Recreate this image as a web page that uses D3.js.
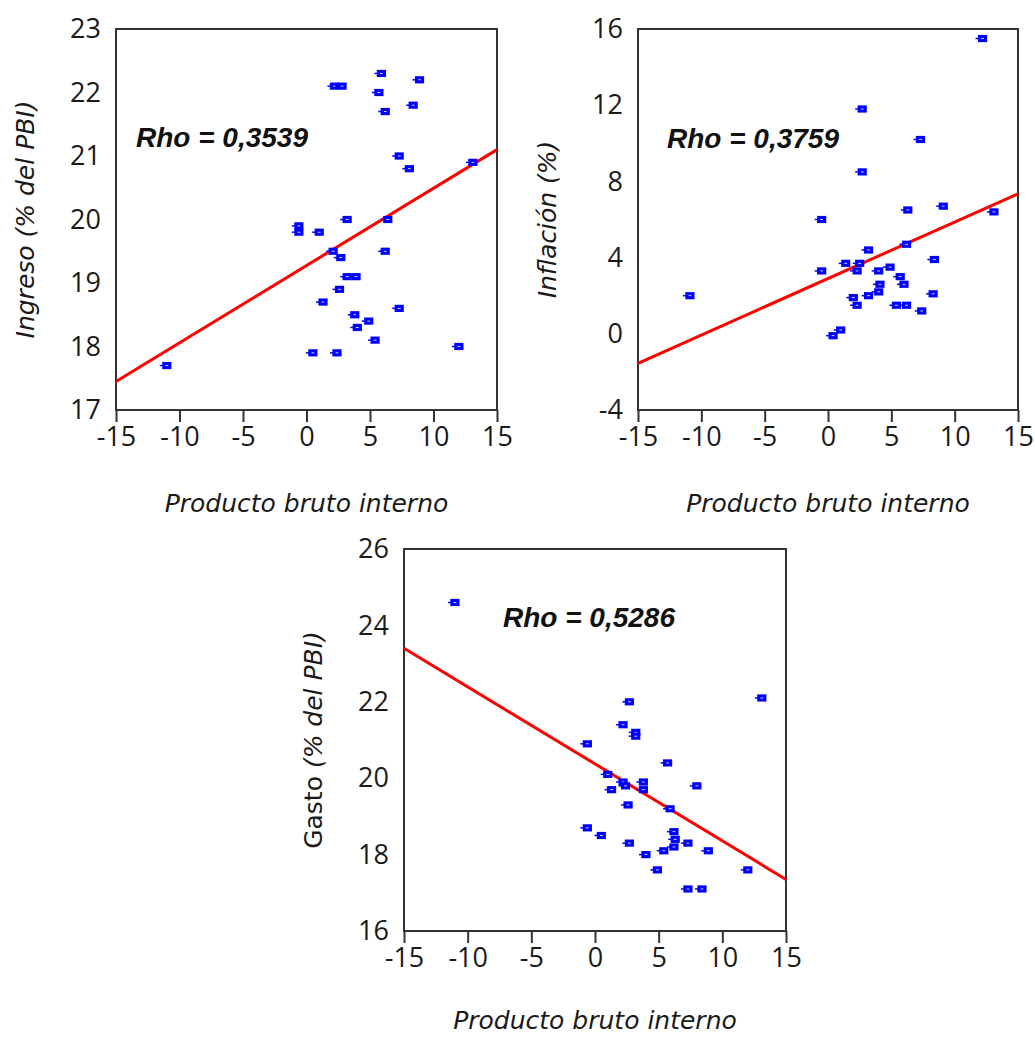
<!DOCTYPE html>
<html>
<head>
<meta charset="utf-8">
<script src="https://cdn.jsdelivr.net/npm/d3@7"></script>
<style>
  body { margin: 0; background: #fff; }
  svg { display: block; }
</style>
</head>
<body>
<div id="chart"></div>
<script>
// Données (PBI en abscisse)

// Panneau 1 : Ingreso (% del PBI)
const pbi1 = [-11.0, -0.6, -0.6, 1.0, 0.5, 1.3, 2.1, 2.4, 2.2, 2.8, 2.7, 2.6, 3.2, 3.2, 3.9,
  3.8, 4.0, 4.9, 5.4, 5.7, 5.9, 6.2, 6.4, 6.2, 7.3, 7.3, 8.1, 8.4, 8.9, 12.0, 13.1];
const ingreso = [17.7, 19.9, 19.8, 19.8, 17.9, 18.7, 19.5, 17.9, 22.1, 22.1, 19.4, 18.9, 20.0, 19.1, 19.1,
  18.5, 18.3, 18.4, 18.1, 22.0, 22.3, 21.7, 20.0, 19.5, 21.0, 18.6, 20.8, 21.8, 22.2, 18.0, 20.9];

// Panneau 2 : Inflación (%)
const pbi2 = [-10.9, -0.5, -0.5, 0.4, 1.0, 1.4, 2.0, 2.3, 2.3, 2.5, 2.7, 2.7, 3.2, 3.2, 4.0, 4.0,
  4.1, 4.9, 5.4, 5.7, 6.0, 6.2, 6.2, 6.3, 7.3, 7.4, 8.3, 8.4, 9.1, 12.2, 13.1];
const inflacion = [2.0, 6.0, 3.3, -0.1, 0.2, 3.7, 1.9, 1.5, 3.3, 3.7, 11.8, 8.5, 4.4, 2.0, 3.3, 2.2,
  2.6, 3.5, 1.5, 3.0, 2.6, 1.5, 4.7, 6.5, 10.2, 1.2, 2.1, 3.9, 6.7, 15.5, 6.4];

// Panneau 3 : Gasto (% del PBI)
const pbi3 = [-11.0, -0.6, -0.6, 0.5, 1.0, 1.3, 2.2, 2.2, 2.4, 2.6, 2.7, 2.7, 3.2, 3.2, 3.8, 3.8,
  4.0, 4.9, 5.4, 5.7, 5.9, 6.2, 6.3, 6.2, 7.3, 7.3, 8.0, 8.4, 8.9, 12.0, 13.1];
const gasto = [24.6, 20.9, 18.7, 18.5, 20.1, 19.7, 21.4, 19.9, 19.8, 19.3, 22.0, 18.3, 21.2, 21.1, 19.9, 19.7,
  18.0, 17.6, 18.1, 20.4, 19.2, 18.6, 18.4, 18.2, 18.3, 17.1, 19.8, 17.1, 18.1, 17.6, 22.1];

// Droites d'ajustement : valeurs en x = -15 et x = 15
const fitX = [-15, 15];
const fit1 = [17.45, 21.1];
const fit2 = [-1.55, 7.35];
const fit3 = [23.4, 17.35];

// Étiquettes
const rhoLabels = ["Rho = 0,3539", "Rho = 0,3759", "Rho = 0,5286"];
const xTicks = [-15, -10, -5, 0, 5, 10, 15];
const yTicks1 = [17, 18, 19, 20, 21, 22, 23];
const yTicks2 = [-4, 0, 4, 8, 12, 16];
const yTicks3 = [16, 18, 20, 22, 24, 26];

//---------------------------------------------------------------------------------------

const svg = d3.select("#chart")
  .append("svg")
  .attr("width", 1035)
  .attr("height", 1037);

const panels = [
  { x0: 116, x1: 497, y0: 29, y1: 410, xs: pbi1, ys: ingreso, fit: fit1, yTicks: yTicks1,
    rho: rhoLabels[0], rdx: 20, rdy: 118, title: [["Ingreso (% del PBI)", "italic"]] },
  { x0: 638, x1: 1018, y0: 29, y1: 410, xs: pbi2, ys: inflacion, fit: fit2, yTicks: yTicks2,
    rho: rhoLabels[1], rdx: 29, rdy: 119, title: [["Inflación (%)", "italic"]] },
  { x0: 404, x1: 786, y0: 549, y1: 931, xs: pbi3, ys: gasto, fit: fit3, yTicks: yTicks3,
    rho: rhoLabels[2], rdx: 99, rdy: 78, title: [["Gasto ", "normal"], ["(% del PBI)", "italic"]] }
];

const tickFont = "'Open Sans', sans-serif";
const titleFont = "'DejaVu Sans', Verdana, sans-serif";
const fmt = d => String(d); // tiret simple comme dans l'original

panels.forEach(p => {
  const x = d3.scaleLinear().domain([-15, 15]).range([p.x0, p.x1]);
  const y = d3.scaleLinear()
    .domain([p.yTicks[0], p.yTicks[p.yTicks.length - 1]])
    .range([p.y1, p.y0]);

  const g = svg.append("g");

  // cadre
  g.append("rect")
    .attr("x", p.x0).attr("y", p.y0)
    .attr("width", p.x1 - p.x0).attr("height", p.y1 - p.y0)
    .attr("fill", "none")
    .attr("stroke", "#333")
    .attr("stroke-width", 2);

  // axe X
  const xAxis = g.append("g")
    .attr("transform", `translate(0, ${p.y1})`)
    .call(d3.axisBottom(x).tickValues(xTicks).tickFormat(fmt).tickSize(12).tickPadding(5).tickSizeOuter(0));
  xAxis.select(".domain").remove();
  xAxis.selectAll("line").attr("stroke", "#333").attr("stroke-width", 2);
  xAxis.selectAll("text")
    .attr("fill", "#1a1a1a")
    .style("font-family", tickFont)
    .style("font-size", "27px");

  // axe Y (sans graduations)
  const yAxis = g.append("g")
    .attr("transform", `translate(${p.x0}, 0)`)
    .call(d3.axisLeft(y).tickValues(p.yTicks).tickFormat(fmt).tickSize(0).tickPadding(15));
  yAxis.select(".domain").remove();
  yAxis.selectAll("text")
    .attr("fill", "#1a1a1a")
    .style("font-family", tickFont)
    .style("font-size", "27px");

  // titre X (gardé dans la fenêtre pour le panneau du bas)
  g.append("text")
    .attr("x", (p.x0 + p.x1) / 2)
    .attr("y", Math.min(p.y1 + 102, 1029))
    .attr("text-anchor", "middle")
    .attr("fill", "#1a1a1a")
    .style("font-family", titleFont)
    .style("font-size", "25px")
    .style("font-style", "italic")
    .text("Producto bruto interno");

  // titre Y
  const yt = g.append("text")
    .attr("transform", `translate(${p.x0 - 82}, ${(p.y0 + p.y1) / 2}) rotate(-90)`)
    .attr("text-anchor", "middle")
    .attr("fill", "#1a1a1a")
    .style("font-family", titleFont)
    .style("font-size", "25px");
  p.title.forEach(t => {
    yt.append("tspan").style("font-style", t[1]).text(t[0]);
  });

  // droite d'ajustement
  g.append("line")
    .attr("x1", x(fitX[0])).attr("y1", y(p.fit[0]))
    .attr("x2", x(fitX[1])).attr("y2", y(p.fit[1]))
    .attr("stroke", "#ff0000")
    .attr("stroke-width", 3);

  // points
  const pts = p.xs.map((v, i) => ({ x: v, y: p.ys[i] }));
  const mk = g.append("g")
    .selectAll("g")
    .data(pts)
    .join("g")
    .attr("transform", d => `translate(${x(d.x)}, ${y(d.y)})`);
  mk.append("line")
    .attr("x1", -7).attr("x2", -4)
    .attr("y1", 0).attr("y2", 0)
    .attr("stroke", "#0000ff")
    .attr("stroke-width", 1.5);
  mk.append("rect")
    .attr("x", -3).attr("y", -2)
    .attr("width", 6).attr("height", 4)
    .attr("fill", "#fff")
    .attr("stroke", "#0000ff")
    .attr("stroke-width", 3.2);

  // étiquette Rho
  g.append("text")
    .attr("x", p.x0 + p.rdx)
    .attr("y", p.y0 + p.rdy)
    .attr("fill", "#111")
    .style("font-family", "'Liberation Sans', Arial, sans-serif")
    .style("font-size", "28px")
    .style("font-weight", "bold")
    .style("font-style", "italic")
    .text(p.rho);
});
</script>
</body>
</html>
